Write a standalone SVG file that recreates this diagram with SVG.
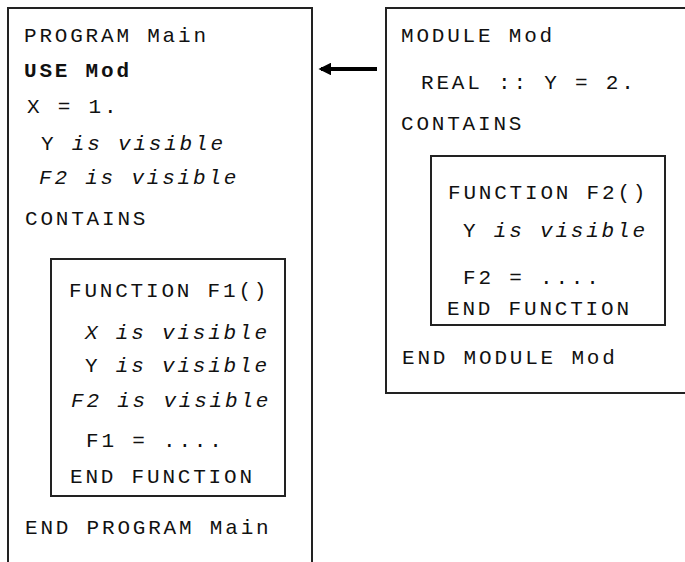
<svg xmlns="http://www.w3.org/2000/svg" width="685" height="562" viewBox="0 0 685 562">
<style>
  .box { fill: none; stroke: #222; stroke-width: 2; }
  text { font-family: "Liberation Mono", "Courier New", monospace; font-size: 21px; letter-spacing: 2.8px; fill: #111; }
  .b { font-weight: bold; }
  .i { font-style: italic; }
  .n { font-style: normal; }
</style>
<defs>
  <marker id="ah" viewBox="0 0 10 10" refX="8" refY="5" markerWidth="3.2" markerHeight="3.2" orient="auto" markerUnits="strokeWidth">
    <path d="M0,0 L10,5 L0,10 Z" fill="#000"/>
  </marker>
</defs>
<rect width="685" height="562" fill="#fff"/>
<g id="program-main">
  <rect class="box" x="8" y="8" width="304" height="600"/>
  <text x="24" y="42">PROGRAM Main</text>
  <text class="b" x="24" y="77">USE Mod</text>
  <text x="27" y="113">X = 1.</text>
  <text class="i" x="41" y="150"><tspan class="n">Y</tspan> is visible</text>
  <text class="i" x="39" y="184">F2 is visible</text>
  <text x="25" y="225">CONTAINS</text>
  <text x="25" y="534">END PROGRAM Main</text>
</g>
<g id="function-f1">
  <rect class="box" x="51" y="259" width="234" height="237"/>
  <text x="69" y="297">FUNCTION F1()</text>
  <text class="i" x="85" y="339">X is visible</text>
  <text class="i" x="85" y="372"><tspan class="n">Y</tspan> is visible</text>
  <text class="i" x="71" y="407">F2 is visible</text>
  <text x="86" y="447">F1 = ....</text>
  <text x="70" y="483">END FUNCTION</text>
</g>
<g id="module-mod">
  <rect class="box" x="386" y="8" width="320" height="385"/>
  <text x="401" y="42">MODULE Mod</text>
  <text x="421" y="89">REAL :: Y = 2.</text>
  <text x="401" y="130">CONTAINS</text>
  <text x="402" y="364">END MODULE Mod</text>
</g>
<g id="function-f2">
  <rect class="box" x="431" y="156" width="234" height="169"/>
  <text x="448" y="199">FUNCTION F2()</text>
  <text class="i" x="463" y="237"><tspan class="n">Y</tspan> is visible</text>
  <text x="463" y="284">F2 = ....</text>
  <text x="447" y="315">END FUNCTION</text>
</g>
<g id="connectors">
  <line x1="377" y1="69" x2="321" y2="69" stroke="#000" stroke-width="4" marker-end="url(#ah)"/>
</g>
</svg>
